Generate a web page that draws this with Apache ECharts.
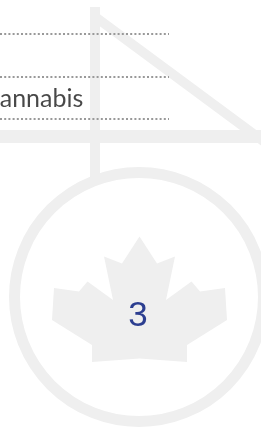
<!DOCTYPE html>
<html>
<head>
<meta charset="utf-8">
<script src="https://cdn.jsdelivr.net/npm/echarts@6/dist/echarts.min.js"></script>
<style>
  html, body { margin: 0; padding: 0; background: #fff; }
  #chart { width: 261px; height: 428px; }
</style>
</head>
<body>
<div id="chart"></div>
<script>
// table rows (first row is empty in this crop)
const rows = ['', 'Cannabis'];
const rowValues = [null, 0];
const badgeValue = 3;

const grey = '#efefef';

// maple leaf outline, symmetric around x = 139.5
const leaf = [
  [139.5, 236.5], [157, 263.5], [175, 256.5], [166, 300], [191.5, 281.5],
  [200, 291.5], [225, 288], [227, 320], [187, 345], [187, 362],
  [139.5, 358.5],
  [92, 362], [92, 345], [52, 320], [54, 288], [79, 291.5],
  [87.5, 281.5], [113, 300], [104, 256.5], [122, 263.5]
];

const chart = echarts.init(document.getElementById('chart'));

chart.setOption({
  backgroundColor: '#fff',
  animation: false,
  grid: { left: 0, right: 92, top: 33.5, height: 85.5 },
  xAxis: { type: 'value', min: 0, max: 1, show: false },
  yAxis: {
    type: 'category',
    data: rows,
    inverse: true,
    z: 5,
    axisLine: { show: false },
    axisTick: { show: false },
    axisLabel: { show: false },
    splitLine: {
      show: true,
      lineStyle: { color: '#999', width: 2, type: [2, 2.2] }
    }
  },
  series: [{
    type: 'scatter',
    z: 6,
    symbolSize: 0,
    data: rows.map((r, i) => rowValues[i] === null ? null : [rowValues[i], r]).filter(d => d),
    label: {
      show: true,
      position: 'right',
      distance: 0,
      offset: [-17, 1],
      formatter: p => p.value[1],
      fontFamily: 'Lato',
      fontSize: 25,
      color: '#1a1a1a'
    }
  }],
  graphic: [
    { type: 'polygon', z: -1, shape: { points: [[90, 7], [290, 155], [290, 167], [90, 19]] }, style: { fill: grey } },
    { type: 'rect', z: -1, shape: { x: 90, y: 7, width: 10, height: 172 }, style: { fill: grey } },
    { type: 'rect', z: -1, shape: { x: 0, y: 130, width: 261, height: 13 }, style: { fill: grey } },
    { type: 'circle', z: -1, shape: { cx: 139, cy: 297, r: 124.5 }, style: { fill: null, stroke: grey, lineWidth: 11 } },
    { type: 'polygon', z: -1, shape: { points: leaf }, style: { fill: grey } },
    {
      type: 'text', z: 10, x: 138, y: 316,
      style: {
        text: String(badgeValue),
        fontFamily: 'Liberation Sans',
        fontSize: 35,
        fill: '#2c3e90',
        align: 'center',
        verticalAlign: 'middle'
      }
    }
  ]
});
</script>
</body>
</html>
